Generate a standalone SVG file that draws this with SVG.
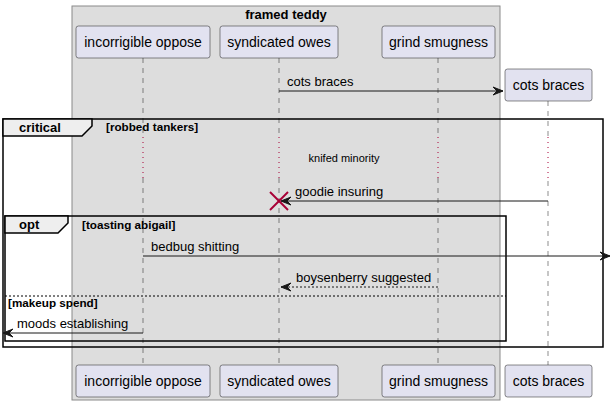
<svg xmlns="http://www.w3.org/2000/svg" width="612" height="405" viewBox="0 0 612 405">
<style>
.part{fill:#E2E2F0;stroke:#181818;stroke-width:0.5}
.pt{font-family:"Liberation Sans",Arial,sans-serif;font-size:14px;fill:#000;text-anchor:middle}
.life{stroke:#181818;stroke-width:0.5;stroke-dasharray:5,5;fill:none}
.delay{stroke:#A80036;stroke-width:1;stroke-dasharray:1,4;fill:none}
.msg{stroke:#181818;stroke-width:1;fill:none}
.dmsg{stroke:#181818;stroke-width:1;stroke-dasharray:2,2;fill:none}
.mt{font-family:"Liberation Sans",Arial,sans-serif;font-size:13px;fill:#000}
.frame{fill:none;stroke:#000;stroke-width:1.5}
.tab{fill:#EEEEEE;stroke:#000;stroke-width:1.5}
.ft{font-family:"Liberation Sans",Arial,sans-serif;font-size:13px;font-weight:bold;fill:#000}
.gt{font-family:"Liberation Sans",Arial,sans-serif;font-size:11.7px;font-weight:bold;fill:#000}
.head{fill:#181818;stroke:#181818;stroke-width:1}
</style>
<rect width="612" height="405" fill="#FFFFFF"/>
<g id="box-framed-teddy">
<rect x="72" y="6" width="428" height="394" fill="#DDDDDD" stroke="#8A8A8A" stroke-width="1"/>
<text x="286" y="19" class="ft" text-anchor="middle">framed teddy</text>
</g>
<g id="lifelines">
<line class="life" x1="143" y1="58" x2="143" y2="365"/>
<line class="life" x1="279" y1="58" x2="279" y2="365"/>
<line class="life" x1="438" y1="58" x2="438" y2="365"/>
<line class="life" x1="548" y1="101" x2="548" y2="365"/>
<rect x="140" y="136" width="6" height="42" fill="#DDDDDD"/>
<rect x="276" y="136" width="6" height="42" fill="#DDDDDD"/>
<rect x="435" y="136" width="6" height="42" fill="#DDDDDD"/>
<rect x="545" y="136" width="6" height="42" fill="#FFFFFF"/>
<line class="delay" x1="143" y1="137" x2="143" y2="178"/>
<line class="delay" x1="279" y1="137" x2="279" y2="178"/>
<line class="delay" x1="438" y1="137" x2="438" y2="178"/>
<line class="delay" x1="548" y1="137" x2="548" y2="178"/>
</g>
<g id="p-incorrigible-oppose">
<rect class="part" x="76" y="26" width="134" height="32" rx="2.5"/>
<text class="pt" x="143" y="47">incorrigible oppose</text>
<rect class="part" x="76" y="365" width="134" height="32" rx="2.5"/>
<text class="pt" x="143" y="386">incorrigible oppose</text>
</g>
<g id="p-syndicated-owes">
<rect class="part" x="220" y="26" width="118" height="32" rx="2.5"/>
<text class="pt" x="279" y="47">syndicated owes</text>
<rect class="part" x="220" y="365" width="118" height="32" rx="2.5"/>
<text class="pt" x="279" y="386">syndicated owes</text>
</g>
<g id="p-grind-smugness">
<rect class="part" x="382" y="26" width="113" height="32" rx="2.5"/>
<text class="pt" x="438.5" y="47">grind smugness</text>
<rect class="part" x="382" y="365" width="113" height="32" rx="2.5"/>
<text class="pt" x="438.5" y="386">grind smugness</text>
</g>
<g id="p-cots-braces">
<rect class="part" x="505" y="69" width="87" height="32" rx="2.5"/>
<text class="pt" x="548.5" y="90">cots braces</text>
<rect class="part" x="505" y="365" width="87" height="32" rx="2.5"/>
<text class="pt" x="548.5" y="386">cots braces</text>
</g>
<g id="frame-critical">
<rect class="frame" x="3" y="119" width="600" height="228"/>
<path class="tab" d="M3,119 L92,119 L92,126 L82,136 L3,136 Z"/>
<text class="ft" x="19" y="132">critical</text>
<text class="gt" x="106" y="131">[robbed tankers]</text>
</g>
<g id="frame-opt">
<rect class="frame" x="5" y="216" width="501" height="125"/>
<path class="tab" d="M5,216 L68,216 L68,223 L58,233 L5,233 Z"/>
<text class="ft" x="19" y="229">opt</text>
<text class="gt" x="82" y="229">[toasting abigail]</text>
<line x1="5" y1="296" x2="506" y2="296" stroke="#000" stroke-width="1" stroke-dasharray="2,2"/>
<text class="gt" x="8" y="307">[makeup spend]</text>
</g>
<g id="connectors">
<line class="msg" x1="279" y1="91" x2="503" y2="91"/>
<polygon class="head" points="493,87 503,91 493,95 497,91"/>
<text class="mt" x="287" y="86">cots braces</text>
<text x="344" y="162" font-family="Liberation Sans, Arial, sans-serif" font-size="11" text-anchor="middle">knifed minority</text>
<line class="msg" x1="548" y1="201" x2="281" y2="201"/>
<polygon class="head" points="291,197 281,201 291,205 287,201"/>
<text class="mt" x="295" y="196">goodie insuring</text>
<g stroke="#A80036" stroke-width="2">
<line x1="270" y1="192" x2="288" y2="210"/>
<line x1="288" y1="192" x2="270" y2="210"/>
</g>
<line class="msg" x1="143" y1="256" x2="610" y2="256"/>
<polygon class="head" points="600,252 610,256 600,260 604,256"/>
<text class="mt" x="151" y="251">bedbug shitting</text>
<line class="dmsg" x1="438" y1="287" x2="281" y2="287"/>
<polygon class="head" points="291,283 281,287 291,291 287,287"/>
<text class="mt" x="296" y="282">boysenberry suggested</text>
<line class="msg" x1="143" y1="333" x2="3" y2="333"/>
<polygon class="head" points="13,329 3,333 13,337 9,333"/>
<text class="mt" x="17" y="328">moods establishing</text>
</g>
</svg>
